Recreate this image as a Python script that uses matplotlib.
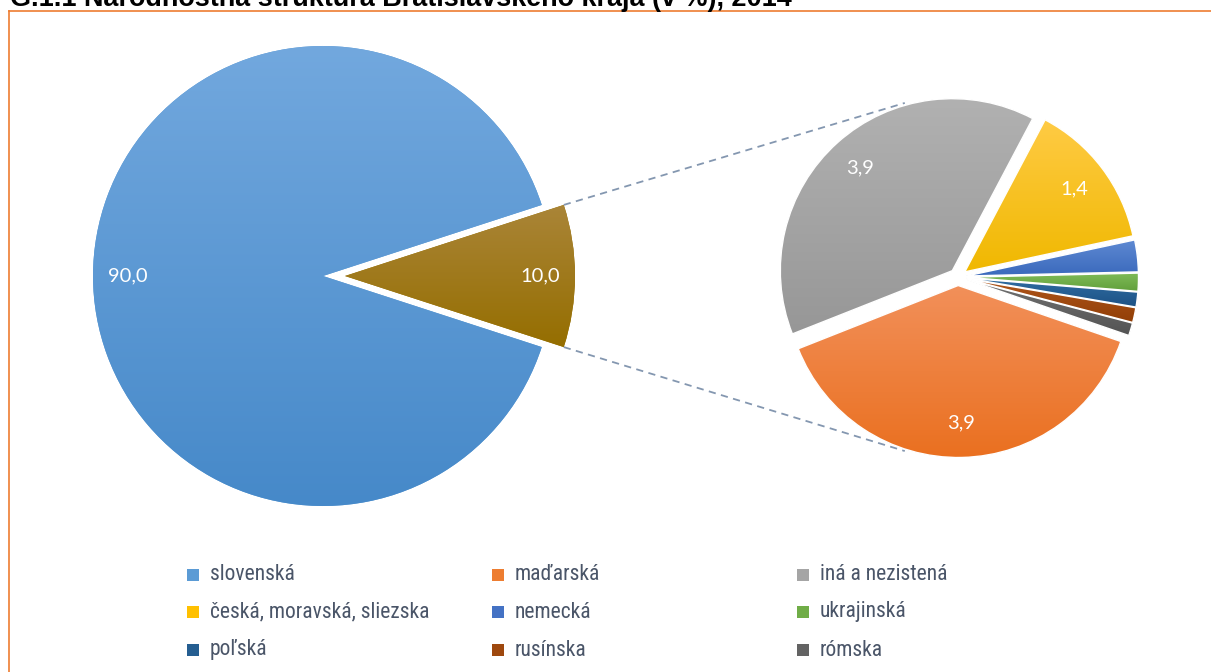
import matplotlib
matplotlib.use("Agg")
import matplotlib.pyplot as plt
import numpy as np
from matplotlib import patches, font_manager
from matplotlib.lines import Line2D
from matplotlib.colors import to_rgb

# ---------------- data ----------------
title = "G.1.1 Národnostná štruktúra Bratislavského kraja (v %), 2014"
main_labels = ["slovenská", "ostatné"]
main_values = [90.0, 10.0]
sub_labels = ["maďarská", "iná a nezistená", "česká, moravská, sliezska",
              "nemecká", "ukrajinská", "poľská", "rusínska", "rómska"]
sub_values = [3.9, 3.9, 1.4, 0.3, 0.17, 0.14, 0.14, 0.12]
legend_order = ["slovenská", "maďarská", "iná a nezistená",
                "česká, moravská, sliezska", "nemecká", "ukrajinská",
                "poľská", "rusínska", "rómska"]

# colours: (top, bottom) of gradient, and solid legend colour
grad = {
    "slovenská": ("#72A8DE", "#4689C9"),
    "ostatné": ("#AA8538", "#956E00"),
    "maďarská": ("#F2905A", "#EA7020"),
    "iná a nezistená": ("#B1B1B1", "#979797"),
    "česká, moravská, sliezska": ("#FFCB45", "#F0B800"),
    "nemecká": ("#5F8AD3", "#3A69BC"),
    "ukrajinská": ("#80BC59", "#62A03C"),
    "poľská": ("#2F6CA2", "#1D5285"),
    "rusínska": ("#B0561B", "#923F07"),
    "rómska": ("#727272", "#545454"),
}
solid = {
    "slovenská": "#5B9BD5", "ostatné": "#997300", "maďarská": "#ED7D31",
    "iná a nezistená": "#A5A5A5", "česká, moravská, sliezska": "#FFC000",
    "nemecká": "#4472C4", "ukrajinská": "#70AD47", "poľská": "#255E91",
    "rusínska": "#9E480E", "rómska": "#636363",
}

W, H = 1211, 672
fig = plt.figure(figsize=(W / 100, H / 100), dpi=100)
ax = fig.add_axes([0, 0, 1, 1])
ax.axis("off")


def Y(py):
    return H - py


avail = {f.name for f in font_manager.fontManager.ttflist}
num_font = [f for f in ["Lato", "Open Sans", "DejaVu Sans"] if f in avail]
leg_font = [f for f in ["Liberation Sans Narrow", "Roboto Condensed", "Liberation Sans", "DejaVu Sans"] if f in avail]


def fmt(v):
    return f"{v:.1f}".replace(".", ",")


main_center = (323, Y(276))
main_r = 230
sub_center = (958, Y(277))
sub_r = 172

main_tot = sum(main_values)
w1, _, at1 = ax.pie(main_values, center=main_center, radius=main_r,
                    startangle=18, counterclock=True,
                    explode=[0, 22],
                    colors=[solid[l] for l in main_labels],
                    autopct=lambda p: fmt(p * main_tot / 100),
                    pctdistance=0.85,
                    textprops=dict(color="white", fontsize=14.5, family=num_font),
                    wedgeprops=dict(linewidth=0))

sub_tot = sum(sub_values)
w2, _, at2 = ax.pie(sub_values, center=sub_center, radius=sub_r,
                    startangle=-19, counterclock=False,
                    explode=[8.5] * len(sub_values),
                    colors=[solid[l] for l in sub_labels],
                    autopct=lambda p: fmt(p * sub_tot / 100) if p * sub_tot / 100 >= 1 else "",
                    pctdistance=0.8,
                    textprops=dict(color="white", fontsize=14.5, family=num_font),
                    wedgeprops=dict(linewidth=0))


def grad_fill(w, top, bot, edge=None):
    ext = w.get_path().get_extents()
    n = 256
    t = np.linspace(0, 1, n)[:, None]
    c = (1 - t) * np.array(to_rgb(bot)) + t * np.array(to_rgb(top))
    img = np.repeat(c[:, None, :], 2, axis=1)
    im = ax.imshow(img, extent=[ext.x0, ext.x1, ext.y0, ext.y1], origin="lower",
                   aspect="auto", zorder=2, interpolation="bilinear")
    im.set_clip_path(w)
    if edge:
        ax.add_patch(patches.Wedge(w.center, w.r, w.theta1, w.theta2, fill=False,
                                   edgecolor=edge, linewidth=1.0, zorder=3))


for w, l in zip(w1, main_labels):
    grad_fill(w, *grad[l])
for w, l in zip(w2, sub_labels):
    grad_fill(w, *grad[l], edge="white")
for t in list(at1) + list(at2):
    t.set_zorder(5)

# connector lines from "other" wedge to the secondary pie
wo = w1[1]
R2 = sub_r + 10
for th_w, th_s in [(wo.theta2, 107), (wo.theta1, -107)]:
    x0 = wo.center[0] + wo.r * np.cos(np.radians(th_w))
    y0 = wo.center[1] + wo.r * np.sin(np.radians(th_w))
    x1 = sub_center[0] + R2 * np.cos(np.radians(th_s))
    y1 = sub_center[1] + R2 * np.sin(np.radians(th_s))
    ax.plot([x0, x1], [y0, y1], color="#8497B0", lw=1.3,
            ls=(0, (4, 3)), zorder=1.5)

ax.set_xlim(0, W)
ax.set_ylim(0, H)
ax.set_aspect("auto")

# legend (row-major, 3 columns)
col_x = [187, 492, 797]
row_y = [575, 612, 650]
for i, name in enumerate(legend_order):
    r, c = divmod(i, 3)
    ax.add_patch(patches.Rectangle((col_x[c], Y(row_y[r]) - 6), 12, 12,
                                   facecolor=solid[name], edgecolor="none", zorder=4))
    ax.text(col_x[c] + 23, Y(row_y[r]), name, ha="left", va="center",
            fontsize=15.5, color="#4A5568", family=leg_font, zorder=4)

# orange frame (partially visible)
fig.add_artist(Line2D([9 / W, 9 / W], [0, 1 - 10.5 / H], color="#ED7D31", lw=1.2,
                      transform=fig.transFigure))
fig.add_artist(Line2D([9 / W, 1], [1 - 10.5 / H, 1 - 10.5 / H], color="#ED7D31", lw=1.2,
                      transform=fig.transFigure))

# title, cut off at the top edge (as in the reference)
tt = fig.text(10 / W, 1 - 6 / H, title, ha="left", va="baseline", fontsize=16,
              fontweight="bold", color="black",
              family=[f for f in ["Liberation Sans", "DejaVu Sans"] if f in avail])
fig.canvas.draw()
wpx = tt.get_window_extent().width
tt.set_fontsize(16 * 780 / wpx)

fig.savefig("out.png", dpi=100)
